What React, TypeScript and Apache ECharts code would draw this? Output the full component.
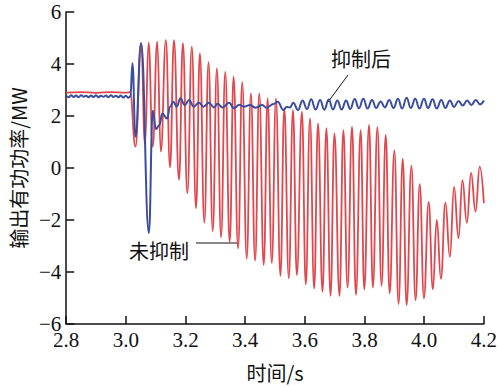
import React, { useEffect, useRef } from "react";
import * as echarts from "echarts";

// 未抑制 (red) — times (s) and values (MW)
const redTime = [
  2.8, 2.85, 2.9, 2.95, 3.0, 3.014,
  3.032, 3.051, 3.064, 3.076, 3.09, 3.105, 3.117, 3.134, 3.148, 3.161,
  3.178, 3.191, 3.206, 3.221, 3.235, 3.248, 3.263, 3.277, 3.291, 3.305,
  3.319, 3.333, 3.348, 3.361, 3.376, 3.39, 3.405, 3.419, 3.433, 3.447,
  3.462, 3.475, 3.489, 3.503, 3.518, 3.531, 3.546, 3.56, 3.573, 3.59,
  3.603, 3.617, 3.631, 3.644, 3.659, 3.672, 3.686, 3.699, 3.716, 3.729,
  3.743, 3.758, 3.771, 3.787, 3.799, 3.815, 3.828, 3.843, 3.857, 3.871,
  3.884, 3.9, 3.914, 3.928, 3.941, 3.957, 3.971, 3.985, 3.999, 4.015,
  4.029, 4.042, 4.056, 4.071, 4.086, 4.1, 4.115, 4.128, 4.143, 4.157,
  4.172, 4.186, 4.2,
];
const redValue = [
  2.9, 2.92, 2.89, 2.92, 2.9, 2.92,
  0.82, 4.8, 0.9, 4.82, 0.82, 4.86, 0.63, 4.92, 0.03, 4.92,
  -0.45, 4.8, -0.97, 4.67, -1.55, 4.41, -2.1, 4.07, -2.43, 3.83,
  -2.67, 3.7, -2.85, 3.51, -3.09, 3.3, -3.48, 2.87, -3.56, 2.87,
  -3.73, 2.68, -3.65, 2.68, -4.15, 2.3, -4.24, 2.23, -4.12, 2.17,
  -4.48, 1.91, -4.64, 1.72, -4.76, 1.53, -4.92, 1.33, -4.92, 1.46,
  -4.6, 1.59, -4.88, 1.46, -4.67, 1.66, -4.6, 1.57, -4.53, 1.27,
  -4.82, 0.68, -5.23, 0.35, -5.27, 0.08, -5.08, -0.62, -5.01, -1.3,
  -4.67, -2.0, -4.26, -1.33, -3.42, -0.73, -2.7, -0.47, -2.11, -0.19,
  -1.68, 0.05, -1.35,
];

// 抑制后 (blue)
const blueTime = [
  2.8, 2.808, 2.816, 2.825, 2.833, 2.841, 2.85, 2.858, 2.866, 2.875,
  2.883, 2.891, 2.9, 2.908, 2.916, 2.925, 2.933, 2.941, 2.95, 2.958,
  2.966, 2.975, 2.983, 2.991, 3.0, 3.008, 3.015,
  3.022, 3.032, 3.051, 3.077, 3.09, 3.101, 3.112, 3.122, 3.138, 3.148,
  3.159, 3.17, 3.183, 3.197, 3.212, 3.227, 3.245, 3.26, 3.278, 3.296,
  3.307, 3.324, 3.346, 3.362, 3.381, 3.395, 3.416, 3.435, 3.457, 3.471,
  3.495, 3.509, 3.528, 3.539, 3.55, 3.561, 3.577,
  3.592, 3.607, 3.621, 3.636, 3.651, 3.665, 3.68, 3.694, 3.709, 3.723,
  3.738, 3.752, 3.767, 3.781, 3.796, 3.81, 3.825, 3.839, 3.854, 3.868,
  3.883, 3.897, 3.912, 3.926, 3.941, 3.955, 3.97, 3.984, 3.999, 4.013,
  4.028, 4.042, 4.057, 4.071, 4.086, 4.1, 4.115, 4.129, 4.144, 4.158,
  4.173, 4.187, 4.2,
];
const blueValue = [
  2.78, 2.72, 2.8, 2.73, 2.79, 2.72, 2.8, 2.74, 2.78, 2.72,
  2.79, 2.73, 2.8, 2.72, 2.78, 2.74, 2.79, 2.72, 2.8, 2.73,
  2.78, 2.72, 2.79, 2.71, 2.78, 2.7, 2.75,
  4.03, 1.2, 4.8, -2.5, 2.2, 1.5, 1.65, 2.1, 1.9, 2.36,
  2.55, 2.36, 2.68, 2.42, 2.62, 2.36, 2.51, 2.36, 2.51, 2.33,
  2.47, 2.33, 2.51, 2.3, 2.43, 2.36, 2.42, 2.32, 2.42, 2.32,
  2.46, 2.55, 2.23, 2.35, 2.33, 2.51, 2.23,
  2.6, 2.27, 2.64, 2.25, 2.62, 2.24, 2.63, 2.25, 2.6, 2.25,
  2.6, 2.27, 2.65, 2.3, 2.66, 2.29, 2.62, 2.31, 2.56, 2.33,
  2.62, 2.31, 2.66, 2.29, 2.7, 2.31, 2.66, 2.29, 2.66, 2.31,
  2.64, 2.29, 2.62, 2.31, 2.6, 2.35, 2.58, 2.4, 2.6, 2.42,
  2.62, 2.45, 2.6,
];

const xTicks = [2.8, 3.0, 3.2, 3.4, 3.6, 3.8, 4.0, 4.2];
const yTicks = [-6, -4, -2, 0, 2, 4, 6];

const seriesNames = ["未抑制", "抑制后"];
const xTitle = "时间/s";
const yTitle = "输出有功功率/MW";

const serif = "'Liberation Serif', 'Times New Roman', serif";
const cjk = "'Noto Sans CJK SC', 'Liberation Serif', serif";

export default function App() {
  const ref = useRef<HTMLDivElement>(null);
  useEffect(() => {
    if (!ref.current) return;
    const chart = echarts.init(ref.current, null, { renderer: "svg" });
    const red = redTime.map((t, i) => [t, redValue[i]]);
    const blue = blueTime.map((t, i) => [t, blueValue[i]]);
    chart.setOption({
      animation: false,
      backgroundColor: "#fff",
      grid: { left: 62, right: 13, top: 12, bottom: 63 },
      xAxis: {
        type: "value",
        min: xTicks[0],
        max: xTicks[xTicks.length - 1],
        interval: 0.2,
        name: xTitle,
        nameLocation: "middle",
        nameGap: 38,
        nameTextStyle: { fontFamily: cjk, fontSize: 20, color: "#111" },
        axisLine: { onZero: false, lineStyle: { color: "#111", width: 1.5 } },
        axisTick: { inside: true, length: 8, lineStyle: { color: "#111", width: 1.5 } },
        axisLabel: {
          fontFamily: serif,
          fontSize: 21,
          color: "#111",
          margin: 5,
          formatter: (v: number) => v.toFixed(1),
        },
        splitLine: { show: false },
      },
      yAxis: {
        type: "value",
        min: yTicks[0],
        max: yTicks[yTicks.length - 1],
        interval: 2,
        name: yTitle,
        nameLocation: "middle",
        nameGap: 36,
        nameRotate: 90,
        nameTextStyle: { fontFamily: cjk, fontSize: 20, color: "#111" },
        axisLine: { show: true, onZero: false, lineStyle: { color: "#111", width: 1.5 } },
        axisTick: { show: true, inside: true, length: 8, lineStyle: { color: "#111", width: 1.5 } },
        axisLabel: {
          fontFamily: serif,
          fontSize: 21,
          color: "#111",
          margin: 5,
          formatter: (v: number) => (v < 0 ? "\u2212" + Math.abs(v) : String(v)),
        },
        splitLine: { show: false },
      },
      series: [
        {
          name: seriesNames[0],
          type: "line",
          data: red,
          showSymbol: false,
          smooth: 0.45,
          smoothMonotone: "x",
          lineStyle: { color: "#e0474d", width: 1.8 },
          z: 2,
        },
        {
          name: seriesNames[1],
          type: "line",
          data: blue,
          showSymbol: false,
          smooth: 0.45,
          smoothMonotone: "x",
          lineStyle: { color: "#3a4d9e", width: 2 },
          z: 3,
        },
      ],
      graphic: [
        {
          type: "text",
          x: 361,
          y: 58,
          style: {
            text: seriesNames[1],
            fontFamily: cjk,
            fontSize: 20,
            fill: "#111",
            align: "center",
            verticalAlign: "middle",
          },
        },
        {
          type: "line",
          shape: { x1: 348, y1: 75, x2: 328, y2: 102 },
          style: { stroke: "#111", lineWidth: 1 },
        },
        {
          type: "text",
          x: 159,
          y: 250,
          style: {
            text: seriesNames[0],
            fontFamily: cjk,
            fontSize: 20,
            fill: "#111",
            align: "center",
            verticalAlign: "middle",
          },
        },
        {
          type: "line",
          shape: { x1: 196, y1: 243, x2: 239, y2: 243 },
          style: { stroke: "#111", lineWidth: 1 },
        },
      ],
    });
    return () => chart.dispose();
  }, []);
  return (
    <div
      ref={ref}
      style={{ position: "fixed", left: 0, top: 0, width: 500, height: 387 }}
    />
  );
}
